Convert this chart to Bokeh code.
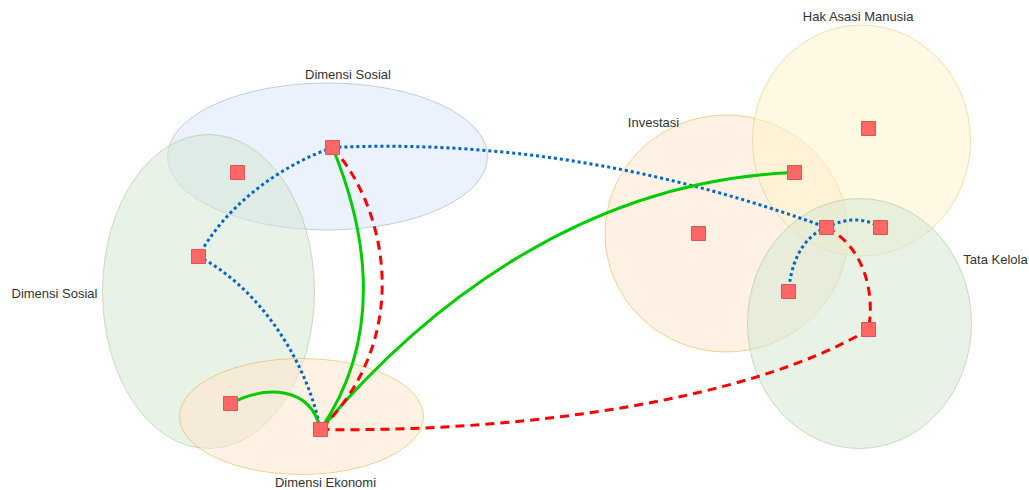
from bokeh.plotting import figure
from bokeh.models import Range1d, ColumnDataSource
from bokeh.embed import file_html
from bokeh.resources import INLINE
from bokeh.core.properties import value

# ---- data (page-pixel coordinate space) ----
node_x = [237, 332, 198, 230, 320, 698, 794, 868, 826, 880, 788, 868]
node_y = [172, 147, 256, 403, 429, 233, 172, 128, 227, 227, 291, 329]

ell_x = [327, 208, 301, 726, 861, 859]
ell_y = [156, 291, 416, 233, 140, 323]
ell_w = [320, 212, 244, 243, 218, 224]
ell_h = [147, 314, 116, 237, 231, 250]
ell_fill = ["#dae8fc", "#d5e8d4", "#ffe6cc", "#ffe6cc", "#fff2cc", "#d5e8d4"]
ell_line = ["#6c8ebf", "#82b366", "#d79b00", "#d79b00", "#d6b656", "#82b366"]

labels = ["Dimensi Sosial", "Dimensi Sosial", "Dimensi Ekonomi", "Investasi", "Hak Asasi Manusia", "Tata Kelola"]
label_x = [347.5, 54, 325, 653, 858, 995]
label_y = [74, 293, 482, 122, 16, 259]

# edges: (from, to, c0x, c0y, c1x, c1y)
blue_edges = [(1, 2, 280, 165, 225, 205),
              (2, 4, 255, 285, 305, 355),
              (1, 8, 484, 140, 649, 162),
              (8, 9, 845, 217, 865, 217),
              (8, 10, 812, 232, 792, 248)]
green_edges = [(3, 4, 265, 385, 310, 385),
               (1, 4, 362, 220, 388, 330),
               (4, 6, 420, 310, 580, 180)]
red_edges = [(1, 4, 385, 205, 415, 335),
             (4, 11, 520, 432, 750, 400),
             (8, 11, 862, 245, 875, 290)]


def edge_source(edges):
    d = dict(x0=[], y0=[], x1=[], y1=[], cx0=[], cy0=[], cx1=[], cy1=[])
    for a, b, c0x, c0y, c1x, c1y in edges:
        d["x0"].append(node_x[a]); d["y0"].append(node_y[a])
        d["x1"].append(node_x[b]); d["y1"].append(node_y[b])
        d["cx0"].append(c0x); d["cy0"].append(c0y)
        d["cx1"].append(c1x); d["cy1"].append(c1y)
    return ColumnDataSource(d)


p = figure(width=1029, height=490, output_backend="svg", toolbar_location=None,
           x_range=Range1d(0, 1029), y_range=Range1d(490, 0),
           min_border=0, outline_line_color=None)
p.axis.visible = False
p.grid.visible = False
p.background_fill_color = "white"

esrc = ColumnDataSource(dict(x=ell_x, y=ell_y, w=ell_w, h=ell_h, f=ell_fill, l=ell_line))
p.ellipse(x="x", y="y", width="w", height="h", fill_color="f", fill_alpha=0.55,
          line_color="l", line_alpha=0.4, line_width=1, source=esrc)

p.bezier(x0="x0", y0="y0", x1="x1", y1="y1", cx0="cx0", cy0="cy0", cx1="cx1", cy1="cy1",
         line_color="#0066cc", line_width=3, line_dash="3 3", source=edge_source(blue_edges))
p.bezier(x0="x0", y0="y0", x1="x1", y1="y1", cx0="cx0", cy0="cy0", cx1="cx1", cy1="cy1",
         line_color="#00cc00", line_width=3, source=edge_source(green_edges))
p.bezier(x0="x0", y0="y0", x1="x1", y1="y1", cx0="cx0", cy0="cy0", cx1="cx1", cy1="cy1",
         line_color="#ff0000", line_width=3, line_dash="9 6", source=edge_source(red_edges))

p.scatter(node_x, node_y, marker="square", size=14, fill_color="#ff6666",
          line_color="#dd5555", line_width=1)

p.text(x=label_x, y=label_y, text=labels, text_align="center", text_baseline="middle",
       text_font=value("Liberation Sans"), text_font_size="13px", text_color="#333333")

open("out.html", "w").write(file_html(p, INLINE))
